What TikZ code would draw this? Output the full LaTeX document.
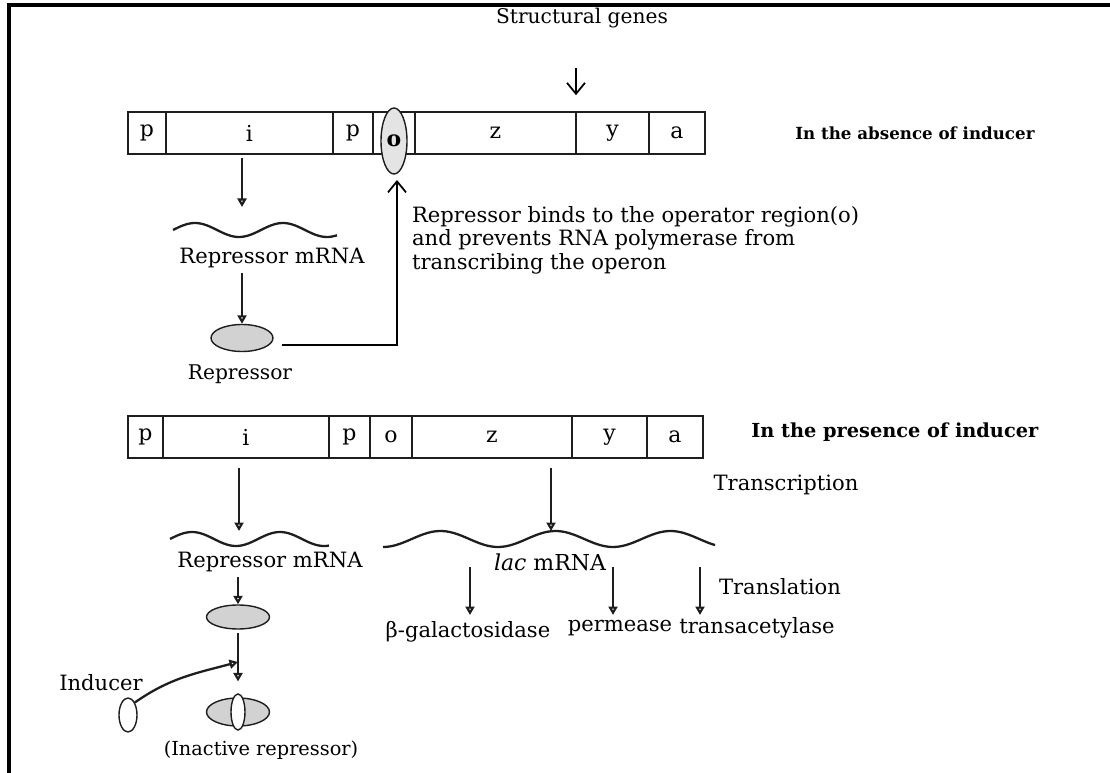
\documentclass[tikz,border=0pt]{standalone}
\usepackage{fontspec}
\setmainfont{DejaVu Serif}
\usetikzlibrary{
  positioning,
  arrows.meta,
  calc,
  shapes.geometric
}
\definecolor{inkGray}{HTML}{1E1E1E}
\definecolor{dotGray}{HTML}{D2D2D2}
\tikzset{
  gene/.style     = {rectangle, draw=inkGray, line width=0.9pt,
                     minimum height=0.84cm, inner sep=0pt,
                     font=\fontsize{12.5}{14}\selectfont},
  caption/.style  = {inner sep=1pt, font=\fontsize{12}{14}\selectfont},
  condition/.style= {anchor=west, inner sep=0pt,
                     font=\bfseries\fontsize{9.5}{12}\selectfont},
  protein/.style  = {ellipse, draw=inkGray, line width=0.8pt,
                     fill=dotGray, inner sep=0pt},
  inducer/.style  = {ellipse, draw=inkGray, line width=0.8pt,
                     fill=white, inner sep=0pt},
  flow/.style     = {-{Triangle[open, length=1.7mm, width=1.8mm]},
                     line width=1.6pt, draw=inkGray},
  barb/.style     = {-{Straight Barb[length=2.2mm, width=3.6mm]},
                     line width=1pt, draw=black},
  wave/.style     = {line width=1.3pt, draw=inkGray},
  frame/.style    = {line width=2.6pt, draw=black}
}

\begin{document}
\begin{tikzpicture}[x=0.02cm, y=-0.02cm]
\useasboundingbox (0,0) rectangle (1110,773);
\draw[frame] (1110,5) -- (9,5) -- (9,773);

% operon without inducer
\node[caption, font=\fontsize{11.5}{14}\selectfont] (sg) at (582,18) {Structural genes};
\foreach \name/\txt/\xl/\xr in {tp1/p/128/166, ti/i/166/333, tp2/p/333/373,
                                to//373/415, tz/z/415/576, ty/y/576/649,
                                ta/a/649/705}
  \node[gene, minimum width={(\xr-\xl)*0.02cm}] (\name)
       at ({(\xl+\xr)/2},133) {\txt};
\node[protein, fill=dotGray!60, minimum width=0.52cm, minimum height=1.32cm,
      font=\bfseries\fontsize{12.5}{14}\selectfont] (oper) at (394,141) {o};
\node[condition] (absent) at (795,133) {In the absence of inducer};

\coordinate (sgtip) at (576,68);
\draw[barb, shorten >=3.2mm] (sgtip) -- (sgtip |- ty.north);

\coordinate (wtop) at (242,207);
\draw[wave] plot[domain=173:337, samples=60]
  (\x, {230 - 7*sin((\x-173)/88*360)});
\draw[flow, shorten <=2pt] (wtop |- ti.south) -- (wtop);
\node[caption] (rmA) at (272,258) {Repressor mRNA};
\node[protein, minimum width=1.24cm, minimum height=0.54cm] (rep) at (242,338) {};
\node[caption, font=\fontsize{11.5}{14}\selectfont] (repA) at (240,374) {Repressor};
\draw[flow, shorten <=2pt] (rep |- rmA.south) -- (rep.north);

\coordinate (bend) at (397,345);
\draw[barb, shorten <=5pt] (rep.east |- bend) -- (bend) -- ([yshift=-3pt]oper.south -| bend);
\node[caption, anchor=north west, align=left,
      font=\fontsize{12}{13.4}\selectfont] (note) at (410,204)
  {Repressor binds to the operator region(o)\\
   and prevents RNA polymerase from\\
   transcribing the operon};

% operon with inducer
\foreach \name/\txt/\xl/\xr in {bp1/p/128/163, bi/i/163/329, bp2/p/329/370,
                                bo/o/370/412, bz/z/412/572, by/y/572/647,
                                ba/a/647/703}
  \node[gene, minimum width={(\xr-\xl)*0.02cm}] (\name)
       at ({(\xl+\xr)/2},437) {\txt};
\node[condition, font=\bfseries\fontsize{11}{13}\selectfont] (present)
     at (751,432) {In the presence of inducer};
\node[caption] (txn) at (786,485) {Transcription};

\coordinate (w2top) at (239,531);
\coordinate (w3top) at (551,531);
\draw[wave] plot[domain=170:329, samples=60]
  (\x, {539 - 7*sin((\x-170)/88*360)});
\draw[wave] plot[domain=383:715, samples=90]
  (\x, {539 + 8*cos((\x-383)/115*360)});
\draw[flow, shorten <=5pt] (w2top |- bi.south) -- (w2top);
\draw[flow, shorten <=5pt] (w3top |- bz.south) -- (w3top);
\node[caption] (rmB) at (270,562) {Repressor mRNA};
\node[caption, font=\fontsize{12.5}{14}\selectfont] (lac) at (550,562) {\textit{lac} mRNA};

\node[protein, minimum width=1.26cm, minimum height=0.48cm] (rep2) at (238,617) {};
\draw[flow, shorten <=2pt] (rep2 |- rmB.south) -- (rep2.north);

\node[protein, minimum width=1.26cm, minimum height=0.56cm] (dead) at (238,712) {};
\node[inducer, minimum width=0.28cm, minimum height=0.72cm] (deadI) at (dead) {};
\node[caption, font=\fontsize{11}{13}\selectfont] (deadA) at (261,750) {(Inactive repressor)};
\coordinate (join) at (238,662);
\draw[flow, shorten <=2pt, shorten >=9pt] (rep2.south) -- (dead.north);

\node[inducer, minimum width=0.36cm, minimum height=0.68cm] (ind) at (128,715) {};
\node[caption] (indA) at (101,683) {Inducer};
\draw[flow, line width=1.3pt] (ind.north east) to[out=35, in=195] (join);

% translation products
\node[caption] (txl) at (780,587) {Translation};
\node[caption] (bgal) at (468,632) {β-galactosidase};
\node[caption] (perm) at (620,628) {permease};
\node[caption] (tacl) at (757,628) {transacetylase};
\foreach \cx/\tgt in {470/bgal, 613/perm, 700/tacl}
  \draw[flow] (\cx,567) -- (\cx,615);
\end{tikzpicture}
\end{document}
